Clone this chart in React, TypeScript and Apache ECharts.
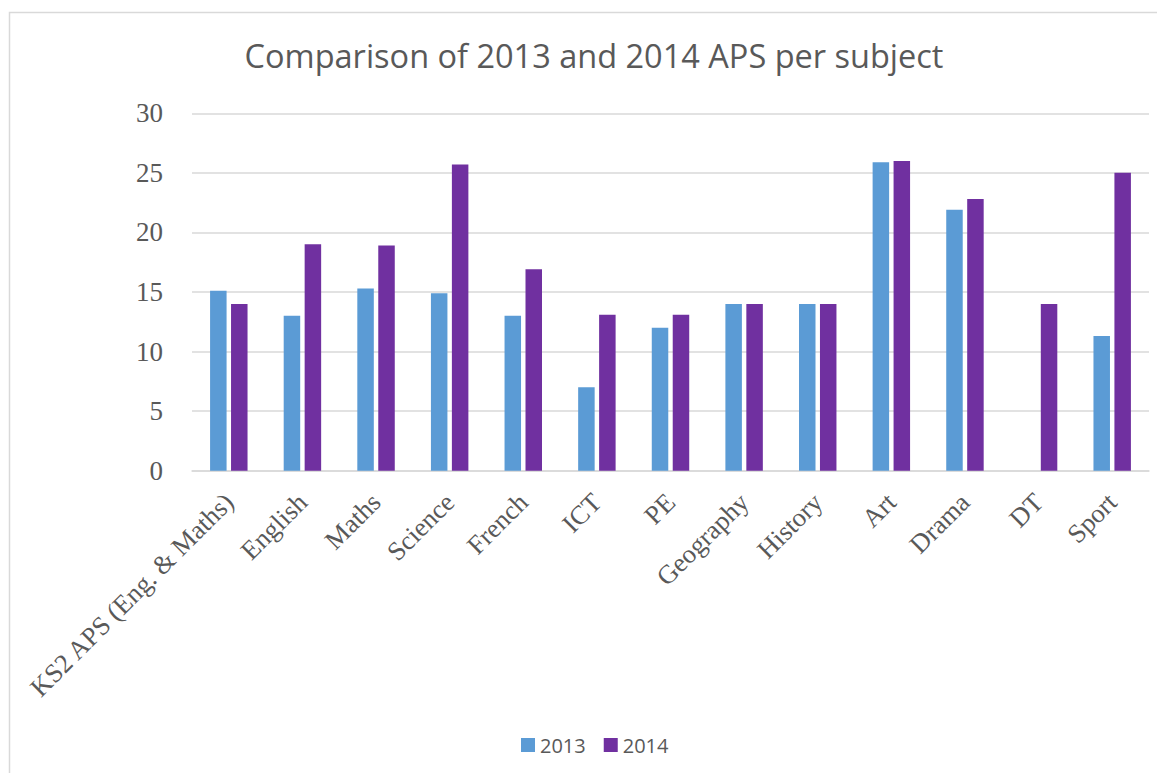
import React, { useEffect, useRef } from "react";
import * as echarts from "echarts";

const categories = [
  "KS2 APS (Eng. & Maths)",
  "English",
  "Maths",
  "Science",
  "French",
  "ICT",
  "PE",
  "Geography",
  "History",
  "Art",
  "Drama",
  "DT",
  "Sport",
];
const values2013: (number | null)[] = [15.1, 13, 15.3, 14.9, 13, 7, 12, 14, 14, 25.9, 21.9, null, 11.3];
const values2014: number[] = [14, 19, 18.9, 25.7, 16.9, 13.1, 13.1, 14, 14, 26, 22.8, 14, 25];
const seriesNames = ["2013", "2014"];
const titleText = "Comparison of 2013 and 2014 APS per subject";

export default function App() {
  const ref = useRef<HTMLDivElement>(null);
  useEffect(() => {
    document.body.style.overflow = "hidden";
    const chart = echarts.init(ref.current!, null, { renderer: "svg" });
    const gray = "#595959";
    chart.setOption({
      animation: false,
      backgroundColor: "#ffffff",
      title: {
        text: titleText,
        left: "center",
        top: 26,
        textStyle: {
          fontFamily: "Open Sans",
          fontSize: 32.5,
          fontWeight: "normal",
          color: gray,
        },
      },
      legend: {
        data: seriesNames,
        left: 508,
        top: 722,
        itemWidth: 14,
        itemHeight: 14,
        itemGap: 18,
        icon: "rect",
        textStyle: { fontFamily: "Open Sans", fontSize: 20, color: gray },
      },
      graphic: [
        {
          type: "rect",
          shape: { x: 1.5, y: 4.5, width: 1300, height: 900 },
          style: { fill: "none", stroke: "#d9d9d9", lineWidth: 1.5 },
          silent: true,
        },
      ],
      grid: { left: 184, right: 31, top: 105.3, bottom: 302.3 },
      xAxis: {
        type: "category",
        data: categories,
        axisLine: { lineStyle: { color: "#d9d9d9", width: 1.5 } },
        axisTick: { show: false },
        axisLabel: {
          interval: 0,
          rotate: 45,
          margin: 27,
          fontFamily: "Liberation Serif",
          fontSize: 26.5,
          color: gray,
        },
      },
      yAxis: {
        type: "value",
        min: 0,
        max: 30,
        interval: 5,
        axisLine: { show: false },
        axisTick: { show: false },
        splitLine: { lineStyle: { color: "#d9d9d9", width: 1.5 } },
        axisLabel: {
          margin: 29,
          fontFamily: "Liberation Serif",
          fontSize: 27,
          color: gray,
        },
      },
      series: [
        {
          name: seriesNames[0],
          type: "bar",
          data: values2013,
          barWidth: 16.5,
          barGap: "27%",
          itemStyle: { color: "#5B9BD5" },
        },
        {
          name: seriesNames[1],
          type: "bar",
          data: values2014,
          barWidth: 16.5,
          itemStyle: { color: "#7030A0" },
        },
      ],
    });
    return () => chart.dispose();
  }, []);
  return <div ref={ref} style={{ width: 1172, height: 765 }} />;
}
